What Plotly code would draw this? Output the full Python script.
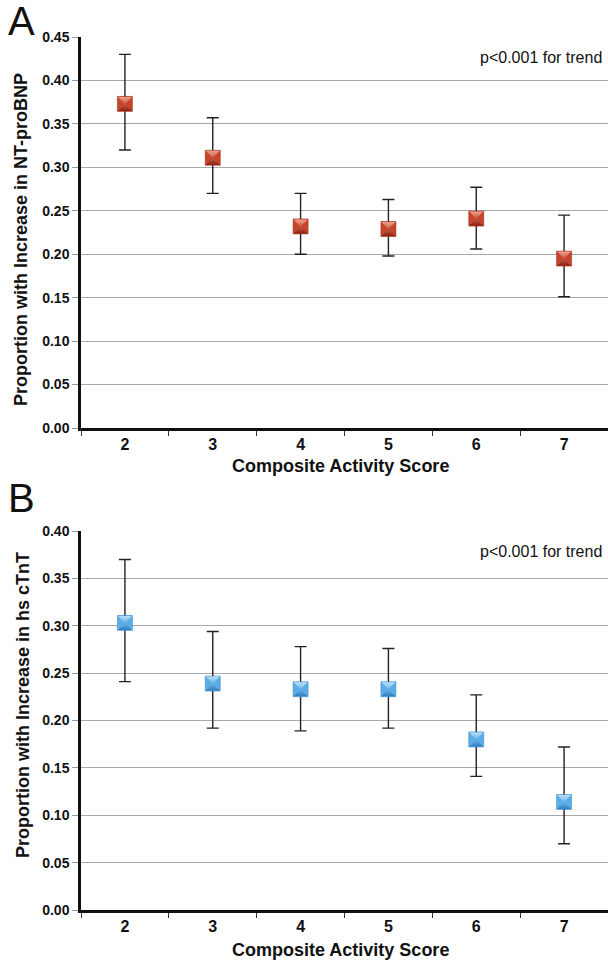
import plotly.graph_objects as go

scores = ["2", "3", "4", "5", "6", "7"]

a_vals = [0.373, 0.311, 0.232, 0.229, 0.241, 0.195]
a_low = [0.320, 0.270, 0.200, 0.198, 0.206, 0.151]
a_high = [0.430, 0.357, 0.270, 0.263, 0.277, 0.245]

b_vals = [0.303, 0.239, 0.233, 0.233, 0.180, 0.114]
b_low = [0.241, 0.192, 0.189, 0.192, 0.141, 0.070]
b_high = [0.370, 0.294, 0.278, 0.276, 0.227, 0.172]

a_ticks = [0.00, 0.05, 0.10, 0.15, 0.20, 0.25, 0.30, 0.35, 0.40, 0.45]
b_ticks = [0.00, 0.05, 0.10, 0.15, 0.20, 0.25, 0.30, 0.35, 0.40]

FONT = "Liberation Sans, Arial, Helvetica, sans-serif"
H = 963.0

fig = go.Figure()


def add_series(vals, low, high, xa, ya, base, light, dark):
    fig.add_trace(go.Scatter(
        x=scores, y=vals, xaxis=xa, yaxis=ya, mode="markers",
        error_y=dict(type="data", symmetric=False,
                     array=[h - v for h, v in zip(high, vals)],
                     arrayminus=[v - l for v, l in zip(vals, low)],
                     color="#222222", thickness=1.4, width=6),
        marker=dict(symbol="square", size=15, color=base,
                    line=dict(width=0.5, color=dark)),
        showlegend=False, hoverinfo="skip"))
    fig.add_trace(go.Scatter(
        x=scores, y=vals, xaxis=xa, yaxis=ya, mode="markers",
        marker=dict(symbol="hourglass", size=14, color=light,
                    gradient=dict(type="vertical", color=dark),
                    line=dict(width=0)),
        showlegend=False, hoverinfo="skip"))


add_series(a_vals, a_low, a_high, "x", "y", "#c8452c", "#f0a08a", "#8e1f10")
add_series(b_vals, b_low, b_high, "x2", "y2", "#5aaee8", "#b8e0fb", "#2f7fc4")

xcommon = dict(type="category", tickson="boundaries", ticks="outside",
               ticklen=5, tickwidth=1, tickcolor="#333333", automargin=False,
               showline=True, linecolor="#111111", linewidth=2.5, mirror=False,
               showgrid=False, zeroline=False, range=[-0.5, 5.5],
               tickfont=dict(family=FONT, size=16, color="#111111", weight="bold"))
ycommon = dict(ticks="outside", ticklen=6, tickcolor="#999999", tickwidth=1.3,
               automargin=False, mirror=False,
               showline=True, linecolor="#111111", linewidth=2.5,
               showgrid=True, gridcolor="#a8a8a8", gridwidth=1.3,
               tickformat=".2f", zeroline=False,
               tickfont=dict(family=FONT, size=14, color="#111111", weight="bold"))


def py(pix):
    return 1 - pix / H


def label(text, xpix, ypix, size, angle=0, bold=True):
    return dict(text=f"<b>{text}</b>" if bold else text, xref="paper",
                yref="paper", x=xpix / 608, y=py(ypix), xanchor="center",
                yanchor="middle", textangle=angle, showarrow=False,
                font=dict(family=FONT, size=size, color="#111111"))


fig.update_layout(
    width=608, height=963,
    margin=dict(l=0, r=0, t=0, b=0),
    paper_bgcolor="white", plot_bgcolor="white",
    xaxis=dict(domain=[81 / 608, 1.0], anchor="y", **xcommon),
    yaxis=dict(domain=[py(428), py(37)], anchor="x", range=[0, 0.45],
               tickvals=a_ticks, **ycommon),
    xaxis2=dict(domain=[81 / 608, 1.0], anchor="y2", **xcommon),
    yaxis2=dict(domain=[py(910), py(531)], anchor="x2", range=[0, 0.40],
                tickvals=b_ticks, **ycommon),
    annotations=[
        dict(text="A", xref="paper", yref="paper", x=0.01, y=1.003,
             xanchor="left", yanchor="top", showarrow=False,
             font=dict(family=FONT, size=40, color="#111111")),
        dict(text="B", xref="paper", yref="paper", x=0.01, y=0.508,
             xanchor="left", yanchor="top", showarrow=False,
             font=dict(family=FONT, size=40, color="#111111")),
        dict(text="p<0.001 for trend", xref="paper", yref="paper",
             x=0.993, y=py(58), xanchor="right", yanchor="middle",
             showarrow=False,
             font=dict(family=FONT, size=16, color="#111111")),
        dict(text="p<0.001 for trend", xref="paper", yref="paper",
             x=0.993, y=py(551), xanchor="right", yanchor="middle",
             showarrow=False,
             font=dict(family=FONT, size=16, color="#111111")),
        label("Proportion with Increase in NT-proBNP", 21, 240, 18, -90),
        label("Proportion with Increase in hs cTnT", 23, 705, 18, -90),
        label("Composite Activity Score", 340, 466, 18),
        label("Composite Activity Score", 340, 950, 18),
    ],
)

fig.write_html("out.html", config={"displayModeBar": False},
               post_script="document.body.style.margin='0';")
